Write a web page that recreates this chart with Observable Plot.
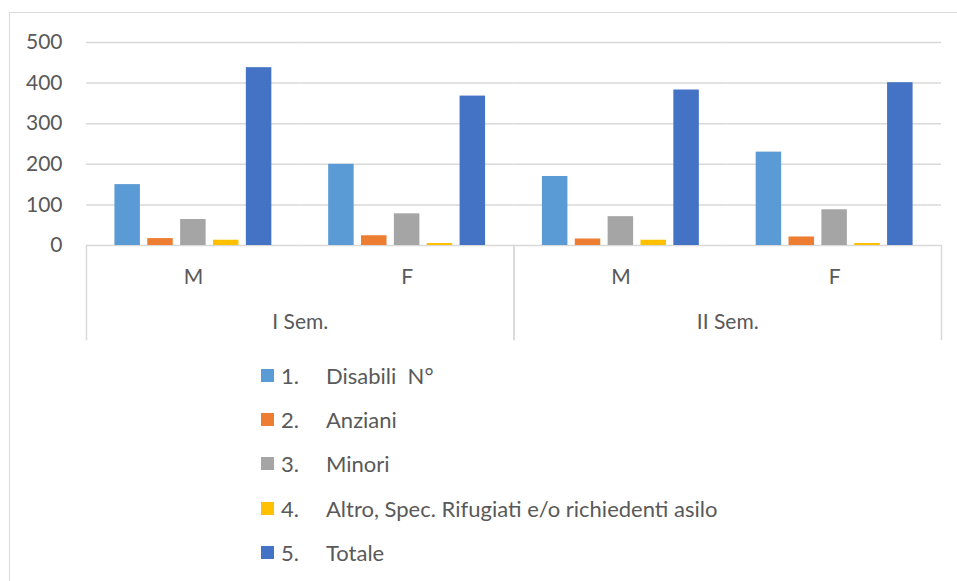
<!DOCTYPE html>
<html>
<head>
<meta charset="utf-8">
<script src="https://cdn.jsdelivr.net/npm/d3@7"></script>
<script src="https://cdn.jsdelivr.net/npm/@observablehq/plot@0.6"></script>
<style>
  html, body { margin: 0; padding: 0; background: #fff; }
  #wrap { position: relative; width: 957px; height: 581px; overflow: hidden; font-family: Lato, "Open Sans", sans-serif; color: #595959; }
  #border { position: absolute; left: 9px; top: 12px; width: 960px; height: 600px; border: 1px solid #d9d9d9; box-sizing: border-box; }
  #main { position: absolute; left: 0; top: 0; }
  #axis { position: absolute; left: 0; top: 245px; }
  #legend { position: absolute; left: 261px; top: 353px; }
  .item { display: flex; align-items: center; height: 44.4px; font-size: 22px; }
  .sw { width: 13px; height: 13px; margin-right: 7px; }
  .num { width: 45px; }
</style>
</head>
<body>
<div id="wrap">
  <div id="border"></div>
  <div id="main"></div>
  <div id="axis"></div>
  <div id="legend"></div>
</div>
<script>
// Data
const semesters = ["I Sem.", "II Sem."];
const sexes = ["M", "F"];
const seriesNums = ["1.", "2.", "3.", "4.", "5."];
const seriesNames = ["Disabili  N°", "Anziani", "Minori", "Altro, Spec. Rifugiati e/o richiedenti asilo", "Totale"];
const seriesColors = ["#5B9BD5", "#ED7D31", "#A5A5A5", "#FFC000", "#4472C4"];
// values per category (I Sem. M, I Sem. F, II Sem. M, II Sem. F) for each series
const disabili = [150, 200, 170, 230];
const anziani  = [17, 24, 16, 21];
const minori   = [64, 78, 71, 88];
const altro    = [13, 5, 13, 5];
const totale   = [438, 368, 383, 401];
const yTicks = [0, 100, 200, 300, 400, 500];

const seriesValues = [disabili, anziani, minori, altro, totale];
const categories = [];
semesters.forEach(s => sexes.forEach(x => categories.push({sem: s, sex: x, key: s + "|" + x})));
const rows = [];
seriesNames.forEach((name, i) => {
  categories.forEach((c, j) => rows.push({key: c.key, series: name, value: seriesValues[i][j]}));
});

const font = "Lato, 'Open Sans', sans-serif";

const main = Plot.plot({
  width: 957,
  height: 246,
  marginTop: 42,
  marginBottom: 1,
  marginLeft: 86,
  marginRight: 16,
  style: {fontFamily: font, fontSize: "21px", color: "#595959", background: "transparent", overflow: "visible"},
  fx: {domain: categories.map(c => c.key), padding: 0, axis: null, round: false},
  x: {domain: seriesNames, paddingInner: 0.224, paddingOuter: 0.865, axis: null, round: false},
  y: {domain: [0, 500], ticks: yTicks, axis: null},
  color: {domain: seriesNames, range: seriesColors},
  marks: [
    Plot.gridY(yTicks, {stroke: "#d9d9d9", strokeOpacity: 1, strokeWidth: 1.5, facet: "exclude", fx: null}),
    Plot.axisY(yTicks, {tickSize: 0, tickPadding: 24, fontSize: 21, fill: "#595959", label: null, facetAnchor: "left", fx: null}),
    Plot.barY(rows, {fx: "key", x: "series", y: "value", fill: "series"})
  ]
});
document.getElementById("main").appendChild(main);

const sexRows = categories;
const axis = Plot.plot({
  width: 957,
  height: 94,
  marginTop: 0,
  marginBottom: 0,
  marginLeft: 86,
  marginRight: 16,
  style: {fontFamily: font, fontSize: "21px", color: "#595959", background: "transparent", overflow: "visible"},
  fx: {domain: semesters, padding: 0, axis: null, round: false},
  x: {type: "band", domain: sexes, padding: 0, axis: null, round: false},
  marks: [
    Plot.frame({anchor: "left", stroke: "#d9d9d9", strokeWidth: 1.5}),
    Plot.frame({anchor: "right", stroke: "#d9d9d9", strokeWidth: 1.5}),
    Plot.text(sexRows, {fx: "sem", x: "sex", text: "sex", frameAnchor: "top", dy: 24, fill: "#595959", fontSize: 21}),
    Plot.text(semesters, {fx: d => d, text: d => d, frameAnchor: "bottom", dy: -11, fill: "#595959", fontSize: 21})
  ]
});
document.getElementById("axis").appendChild(axis);

const legend = document.getElementById("legend");
seriesNames.forEach((name, i) => {
  const item = document.createElement("div");
  item.className = "item";
  item.innerHTML = `<span class="sw" style="background:${seriesColors[i]}"></span><span class="num">${seriesNums[i]}</span><span class="lab"></span>`;
  item.querySelector(".lab").textContent = name;
  item.querySelector(".lab").style.whiteSpace = "pre";
  legend.appendChild(item);
});
</script>
</body>
</html>
